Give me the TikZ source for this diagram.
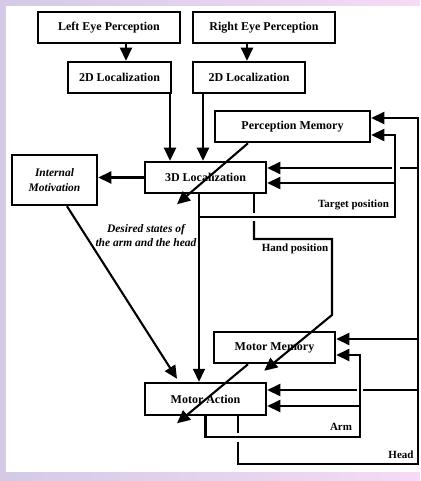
\documentclass[tikz,border=0pt]{standalone}
\usepackage{fontspec}
\setmainfont{Liberation Serif}
\usetikzlibrary{arrows.meta,calc}
\definecolor{bgL}{RGB}{212,202,230}
\definecolor{bgR}{RGB}{246,218,246}
\begin{document}
\begin{tikzpicture}[x=1pt,y=-1pt,
 box/.style={draw,line width=2.5pt,fill=white,font=\bfseries\fontsize{12}{14}\selectfont,inner sep=0pt,align=center},
 con/.style={line width=2.1pt},
 arr/.style={con,-{Triangle[length=13pt,width=12pt]}},
 lab/.style={font=\bfseries\fontsize{11}{13}\selectfont,inner sep=0pt}]
\useasboundingbox (0,0) rectangle (420,481);
\shade[left color=bgL,right color=bgR] (0,0) rectangle (420,481);
\fill[white] (6,6) rectangle (420,472);
% boxes
\node[box,minimum width=142pt,minimum height=31pt] (LE) at (109,27.5) {Left Eye Perception};
\node[box,minimum width=142pt,minimum height=31pt] (RE) at (264,27.5) {Right Eye Perception};
\node[box,minimum width=103pt,minimum height=31pt] (L2) at (119.5,77.5) {2D Localization};
\node[box,minimum width=112pt,minimum height=31pt] (R2) at (249,77.5) {2D Localization};
\node[box,minimum width=155pt,minimum height=31pt] (PM) at (292.5,126.5) {Perception Memory};
\node[box,minimum width=85pt,minimum height=50pt,font=\bfseries\itshape\fontsize{11.5}{15}\selectfont] (IM) at (54.5,180) {Internal\\Motivation};
\node[box,minimum width=121pt,minimum height=31pt] (L3) at (205.5,177.5) {3D Localization};
\node[box,minimum width=121pt,minimum height=31pt] (MM) at (274.5,347.5) {Motor Memory};
\node[box,minimum width=121pt,minimum height=32pt] (MA) at (205.5,399) {Motor Action};
% straight connectors
\draw[arr] ([xshift=17pt]LE.south) -- ([xshift=6.5pt]L2.north);
\draw[arr] ([xshift=-17pt]RE.south) -- ([xshift=-2pt]R2.north);
\draw[arr] ([xshift=50.5pt]L2.south) -- ([xshift=-35.5pt]L3.north);
\draw[arr] ([xshift=-46pt]R2.south) -- ([xshift=-2.5pt]L3.north);
\draw[arr] (L3.west) -- (L3.west -| IM.east);
\draw[arr] ([xshift=12.5pt]IM.south) -- ([xshift=-28.5pt,yshift=3pt]MA.north);
\draw[arr] ([xshift=-6.5pt]L3.south) -- ([xshift=-6.5pt]MA.north);
% target position loop
\coordinate (tp) at (199,217);
\coordinate (tr) at (395,217);
\coordinate (tb) at (395,183);
\draw[arr] (tp) -- (tr) |- ([yshift=-8.5pt]PM.east);
\draw[arr] (tb) -- ([yshift=-5.5pt]L3.east);
% hand position
\coordinate (hp1) at (254,221);
\coordinate (hpc) at (332,239);
\coordinate (hp2) at (332,315);
\draw[con] ([xshift=48.5pt]L3.south) -- ++(0,19);
\draw[arr] (hp1) |- (hpc) -- (hp2) -- ([xshift=-3pt,yshift=11pt]MA.north east);
% head loop
\coordinate (hg) at (238,442);
\coordinate (hc) at (418,464);
\draw[con] ([xshift=32.5pt]MA.south) -- ++(0,17);
\draw[arr] (hg) |- (hc) |- ([yshift=8.5pt]PM.east);
\coordinate (hb1) at (418,168);
\coordinate (hb1g) at (392,168);
\draw[con] (hb1) -- ++(-18,0);
\draw[arr] (hb1g) -- ([yshift=9.5pt]L3.east);
\coordinate (hb2) at (418,339);
\draw[arr] (hb2) -- ([yshift=8.5pt]MM.east);
\coordinate (hb3) at (418,390);
\coordinate (hb3g) at (357,390);
\draw[con] (hb3) -- ++(-55,0);
\draw[arr] (hb3g) -- ([yshift=9pt]MA.east);
% arm loop
\coordinate (ar) at (360,437);
\coordinate (ab) at (360,406);
\draw[arr] (MA.south) |- (ar) |- ([yshift=-7.5pt]MM.east);
\draw[arr] (ab) -- ([yshift=-7pt]MA.east);
% memory diagonals
\draw[arr] ([xshift=-44.5pt]PM.south) -- ([xshift=-28.5pt,yshift=-10pt]L3.south);
\draw[arr] ([xshift=-26.5pt]MM.south) -- ([xshift=-28.5pt,yshift=-7pt]MA.south);
% labels
\node[lab] (tpl) at (353.5,205) {Target position};
\node[lab] (hpl) at (295,249) {Hand position};
\node[lab] (arml) at (341,427) {Arm};
\node[lab] (headl) at (401,455) {Head};
\node[lab,font=\bfseries\itshape\fontsize{11.5}{14}\selectfont,align=center] (des) at (146,236) {Desired states of\\the arm and the head};
\end{tikzpicture}
\end{document}
